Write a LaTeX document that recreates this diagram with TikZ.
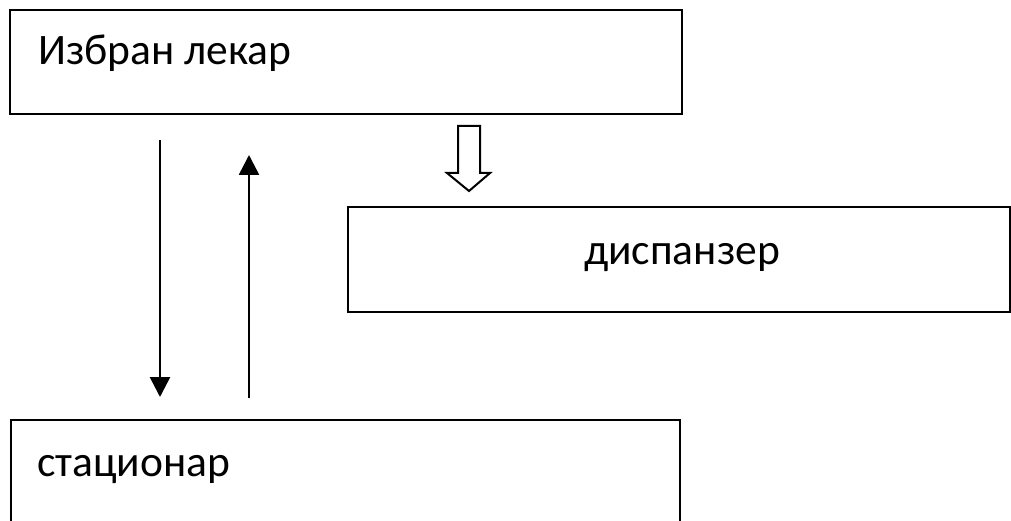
\documentclass[tikz,border=0pt]{standalone}
\usepackage{fontspec}
\setmainfont{Carlito}
\usetikzlibrary{arrows.meta}
\begin{document}
\begin{tikzpicture}[x=1pt,y=-1pt,
  boxstyle/.style={draw=black,line width=2.6pt,inner sep=0pt},
  lbl/.style={inner sep=0pt,font=\fontsize{43.5}{50}\selectfont},
  arr/.style={line width=2.6pt,-{Triangle[length=20pt,width=20pt]}}]
\useasboundingbox (0,0) rectangle (1011,521);
% boxes
\node[boxstyle,minimum width=672pt,minimum height=104pt] (b1) at (346,62) {};
\node[boxstyle,minimum width=662pt,minimum height=105pt] (b2) at (679,259.5) {};
\coordinate (b3nw) at (11,420);
\coordinate (b3ne) at (680,420);
\draw[line width=2.6pt] (11,521) -- (b3nw) -- (b3ne) -- (680,521);
% texts
\node[lbl,anchor=base west] (t1) at (38,65) {Избран лекар};
\node[lbl,anchor=base] (t2) at (682,265) {диспанзер};
\node[lbl,anchor=base west] (t3) at (37,476) {стационар};
% arrows
\coordinate (d1) at (160,140);
\coordinate (d2) at (160,397);
\coordinate (u1) at (249,398);
\coordinate (u2) at (249,155);
\draw[arr] (d1) -- (d2);
\draw[arr] (u1) -- (u2);
% hollow arrow
\draw[line width=2pt,fill=white,line join=miter]
  (458,126) -- (480,126) -- (480,173) -- (490,173) -- (469,191) -- (447,173) -- (458,173) -- cycle;
\end{tikzpicture}
\end{document}
